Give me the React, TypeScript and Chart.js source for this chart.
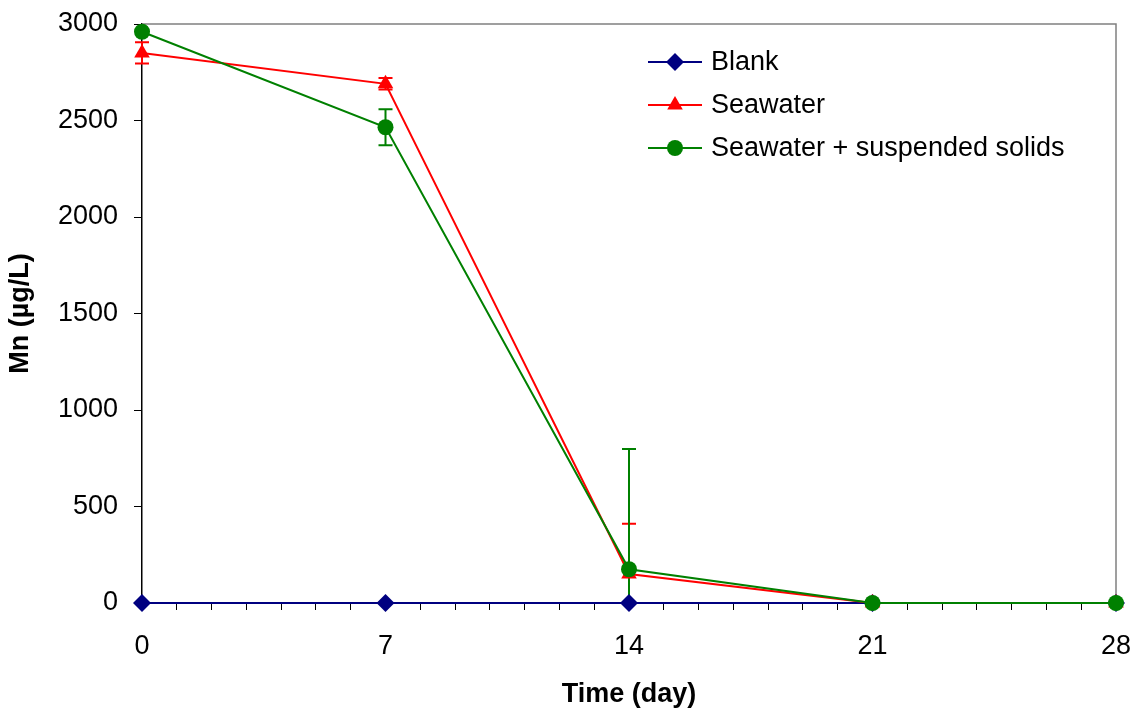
import React, { useEffect, useRef } from "react";
import { Chart, registerables } from "chart.js";

Chart.register(...registerables);

const days = [0, 7, 14, 21, 28];
const blank = [0, 0, 0, 0, 0];
const seawater = [2850, 2690, 150, 0, 0];
const seawaterErr = [55, 30, 260, 0, 0];
const seawaterSolids = [2960, 2465, 175, 0, 0];
const seawaterSolidsErr = [10, 93, 623, 0, 0];
const yTicks = [0, 500, 1000, 1500, 2000, 2500, 3000];
const xLabels = [0, 7, 14, 21, 28];

const FONT = "'Liberation Sans', Arial, sans-serif";
const FS = 27;

function drawMarker(ctx: CanvasRenderingContext2D, shape: string, x: number, y: number, r: number) {
  ctx.beginPath();
  if (shape === "circle") {
    ctx.arc(x, y, r, 0, Math.PI * 2);
  } else if (shape === "triangle") {
    const h = r * 1.5;
    const w = r * Math.sqrt(3);
    ctx.moveTo(x, y - r);
    ctx.lineTo(x + w / 2, y - r + h);
    ctx.lineTo(x - w / 2, y - r + h);
    ctx.closePath();
  } else {
    ctx.moveTo(x, y - r);
    ctx.lineTo(x + r, y);
    ctx.lineTo(x, y + r);
    ctx.lineTo(x - r, y);
    ctx.closePath();
  }
  ctx.fill();
}

const errorBarPlugin = {
  id: "errorBars",
  beforeDatasetsDraw(chart: any) {
    const ctx = chart.ctx;
    const xs = chart.scales.x;
    const ys = chart.scales.y;
    const area = chart.chartArea;
    const sets = [
      { vals: seawater, errs: seawaterErr, color: "#ff0000" },
      { vals: seawaterSolids, errs: seawaterSolidsErr, color: "#008000" },
    ];
    ctx.save();
    ctx.beginPath();
    ctx.rect(area.left - 20, area.top - 20, area.right - area.left + 40, area.bottom - area.top + 20);
    ctx.clip();
    ctx.lineWidth = 2;
    for (const s of sets) {
      ctx.strokeStyle = s.color;
      s.vals.forEach((v, i) => {
        const e = s.errs[i];
        if (!e) return;
        const x = xs.getPixelForValue(days[i]);
        const yt = ys.getPixelForValue(v + e);
        const yb = ys.getPixelForValue(Math.max(0, v - e));
        ctx.beginPath();
        ctx.moveTo(x, yt);
        ctx.lineTo(x, yb);
        ctx.moveTo(x - 7, yt);
        ctx.lineTo(x + 7, yt);
        if (v - e > 0) {
          ctx.moveTo(x - 7, yb);
          ctx.lineTo(x + 7, yb);
        }
        ctx.stroke();
      });
    }
    ctx.restore();
  },
};

const framePlugin = {
  id: "frame",
  beforeDatasetsDraw(chart: any) {
    const { ctx, chartArea: a } = chart;
    ctx.save();
    ctx.strokeStyle = "#808080";
    ctx.lineWidth = 1.5;
    ctx.beginPath();
    ctx.moveTo(a.left, a.top);
    ctx.lineTo(a.right, a.top);
    ctx.lineTo(a.right, a.bottom);
    ctx.stroke();
    ctx.restore();
  },
};

const legendPlugin = {
  id: "customLegend",
  afterDraw(chart: any) {
    const ctx = chart.ctx;
    const items = [
      { label: "Blank", color: "#000080", shape: "rectRot", r: 9 },
      { label: "Seawater", color: "#ff0000", shape: "triangle", r: 9 },
      { label: "Seawater + suspended solids", color: "#008000", shape: "circle", r: 8 },
    ];
    const x0 = 648;
    const x1 = 702;
    const rows = [62, 105, 148];
    ctx.save();
    items.forEach((it, i) => {
      const y = rows[i];
      ctx.strokeStyle = it.color;
      ctx.lineWidth = 2;
      ctx.beginPath();
      ctx.moveTo(x0, y);
      ctx.lineTo(x1, y);
      ctx.stroke();
      ctx.fillStyle = it.color;
      drawMarker(ctx, it.shape, (x0 + x1) / 2, y, it.r);
      ctx.fillStyle = "#000";
      ctx.font = `${FS}px ${FONT}`;
      ctx.textBaseline = "middle";
      ctx.textAlign = "left";
      ctx.fillText(it.label, 711, y + 1);
    });
    ctx.restore();
  },
};

export default function App() {
  const ref = useRef<HTMLCanvasElement>(null);
  useEffect(() => {
    if (!ref.current) return;
    const chart = new Chart(ref.current, {
      type: "line",
      data: {
        datasets: [
          {
            label: "Seawater + suspended solids",
            data: days.map((d, i) => ({ x: d, y: seawaterSolids[i] })),
            borderColor: "#008000",
            backgroundColor: "#008000",
            pointStyle: "circle",
            pointRadius: 8,
            borderWidth: 2,
            pointBorderWidth: 0,
            order: 0,
            clip: false as any,
          },
          {
            label: "Seawater",
            data: days.map((d, i) => ({ x: d, y: seawater[i] })),
            borderColor: "#ff0000",
            backgroundColor: "#ff0000",
            pointStyle: "triangle",
            pointRadius: 9,
            borderWidth: 2,
            pointBorderWidth: 0,
            order: 1,
            clip: false as any,
          },
          {
            label: "Blank",
            data: days.map((d, i) => ({ x: d, y: blank[i] })),
            borderColor: "#000080",
            backgroundColor: "#000080",
            pointStyle: "rectRot",
            pointRadius: 9,
            borderWidth: 2,
            pointBorderWidth: 0,
            order: 2,
            clip: false as any,
          },
        ],
      },
      options: {
        animation: false,
        responsive: false,
        layout: { padding: { top: 24, right: 17, left: 0, bottom: 0 } },
        plugins: { legend: { display: false }, tooltip: { enabled: false } },
        scales: {
          x: {
            type: "linear",
            min: 0,
            max: 28,
            afterFit: (s: any) => {
              s.height = 108;
              s.paddingLeft = 0;
              s.paddingRight = 0;
            },
            afterBuildTicks: (s: any) => {
              const t = [];
              for (let d = 0; d <= 28; d++) t.push({ value: d });
              s.ticks = t;
            },
            grid: { drawOnChartArea: false, drawTicks: true, tickLength: 7, color: "#000", lineWidth: 1 },
            border: { color: "#000", width: 1.5 },
            ticks: {
              autoSkip: false,
              maxRotation: 0,
              padding: 20,
              color: "#000",
              font: { family: FONT, size: FS },
              callback: (v: any) => (xLabels.includes(Number(v)) ? String(v) : ""),
            },
            title: {
              display: true,
              text: "Time (day)",
              color: "#000",
              font: { family: FONT, size: FS, weight: "bold" },
              padding: { top: 0, bottom: 0 },
            },
          },
          y: {
            type: "linear",
            min: 0,
            max: 3000,
            afterFit: (s: any) => {
              s.width = 142;
              s.paddingTop = 0;
              s.paddingBottom = 0;
            },
            afterBuildTicks: (s: any) => {
              s.ticks = yTicks.map((v) => ({ value: v }));
            },
            grid: { drawOnChartArea: false, drawTicks: true, tickLength: 8, color: "#000", lineWidth: 1 },
            border: { color: "#000", width: 1.5 },
            ticks: {
              padding: 16,
              color: "#000",
              font: { family: FONT, size: FS },
              callback: (v: any) => String(v),
            },
            title: {
              display: true,
              text: "Mn (µg/L)",
              color: "#000",
              font: { family: FONT, size: FS, weight: "bold" },
              padding: { top: 4, bottom: 0 },
            },
          },
        },
      },
      plugins: [framePlugin, errorBarPlugin, legendPlugin],
    } as any);
    return () => chart.destroy();
  }, []);
  return (
    <div style={{ position: "absolute", left: 0, top: 0, width: 1133, height: 711, background: "#fff" }}>
      <canvas ref={ref} width={1133} height={711} style={{ width: 1133, height: 711 }} />
    </div>
  );
}
